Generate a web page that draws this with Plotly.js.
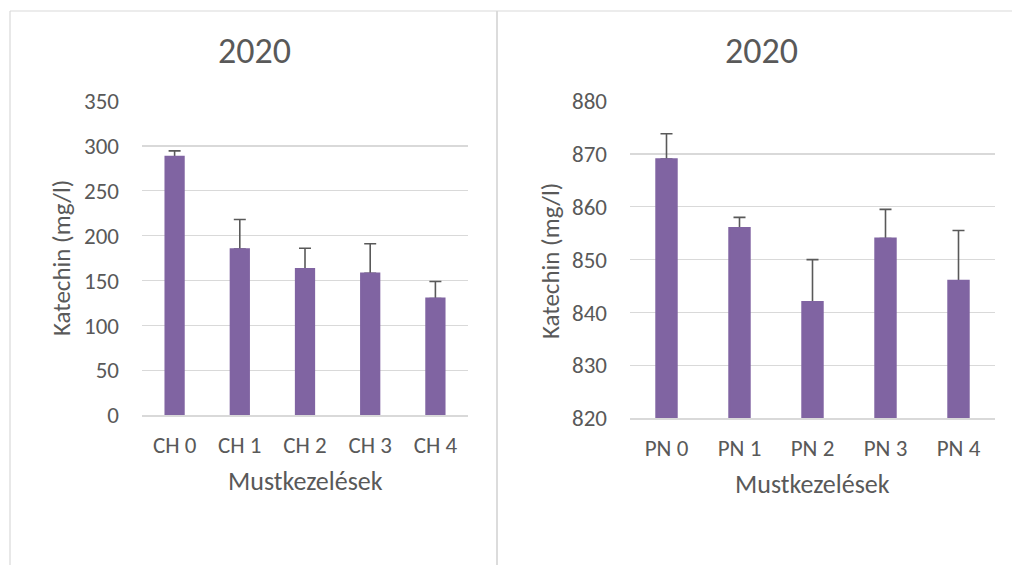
<!DOCTYPE html>
<html>
<head>
<meta charset="utf-8">
<script src="https://cdn.plot.ly/plotly-3.0.1.min.js"></script>
<style>
  html, body { margin: 0; padding: 0; background: #fff; }
  #chart { width: 1012px; height: 565px; }
</style>
</head>
<body>
<div id="chart"></div>
<script>
'use strict';

var chTreatments = ['CH 0', 'CH 1', 'CH 2', 'CH 3', 'CH 4'];
var chKatechin = [288, 185, 163, 158, 130];
var chError = [6.5, 33, 23, 33, 19];

var pnTreatments = ['PN 0', 'PN 1', 'PN 2', 'PN 3', 'PN 4'];
var pnKatechin = [869, 856, 842, 854, 846];
var pnError = [4.8, 2, 8, 5.5, 9.5];

var chartTitle = '2020';
var yTitle = 'Katechin (mg/l)';
var xTitle = 'Mustkezelések';

var barColor = '#8064A2'; //Excel purple
var textColor = '#595959';
var gridColor = '#d9d9d9';
var fontFamily = 'Carlito, Lato, sans-serif';

var W = 1012;
var H = 565;

function px(x) { return x / W; }
function py(y) { return 1 - y / H; }

// invisible bars that only carry the (upper) error bars, drawn under the real bars
function makeErrorBars(x, y, err, xaxis, yaxis) {
  return {
    type: 'bar',
    x: x,
    y: y,
    xaxis: xaxis,
    yaxis: yaxis,
    marker: { color: 'rgba(0,0,0,0)' },
    error_y: {
      type: 'data',
      symmetric: false,
      array: err,
      arrayminus: err.map(function () { return 0; }),
      color: textColor,
      thickness: 1.6,
      width: 6
    },
    hoverinfo: 'skip',
    showlegend: false
  };
}

function makeBars(x, y, xaxis, yaxis) {
  return {
    type: 'bar',
    x: x,
    y: y,
    xaxis: xaxis,
    yaxis: yaxis,
    // outline in the fill colour hides the empty lower cap of the error bar
    marker: { color: barColor, line: { color: barColor, width: 2 } },
    hoverinfo: 'x+y',
    showlegend: false
  };
}

function makeYAxis(domain, range, dtick, anchor) {
  return {
    domain: domain,
    range: range,
    dtick: dtick,
    anchor: anchor,
    showgrid: true,
    gridcolor: gridColor,
    gridwidth: 1.3,
    zeroline: false,
    showline: false,
    ticks: '',
    ticklabelstandoff: 22,
    tickfont: { family: fontFamily, size: 23, color: textColor },
    fixedrange: true
  };
}

function makeXAxis(domain, anchor) {
  return {
    domain: domain,
    anchor: anchor,
    type: 'category',
    showgrid: false,
    zeroline: false,
    showline: true,
    linecolor: gridColor,
    linewidth: 1.3,
    ticks: '',
    ticklabelstandoff: 9,
    tickfont: { family: fontFamily, size: 23, color: textColor },
    fixedrange: true
  };
}

function textNote(text, x, y, size, angle) {
  return {
    text: text,
    xref: 'paper',
    yref: 'paper',
    x: px(x),
    y: py(y),
    xanchor: 'center',
    yanchor: 'middle',
    showarrow: false,
    textangle: angle || 0,
    font: { family: fontFamily, size: size, color: textColor }
  };
}

function borderLine(x0, y0, x1, y1, width) {
  return {
    type: 'line',
    xref: 'paper',
    yref: 'paper',
    x0: px(x0), y0: py(y0),
    x1: px(x1), y1: py(y1),
    line: { color: gridColor, width: width }
  };
}

var data = [
  makeErrorBars(chTreatments, chKatechin, chError, 'x', 'y'),
  makeBars(chTreatments, chKatechin, 'x', 'y'),
  makeErrorBars(pnTreatments, pnKatechin, pnError, 'x2', 'y2'),
  makeBars(pnTreatments, pnKatechin, 'x2', 'y2')
];

var layout = {
  width: W,
  height: H,
  margin: { l: 0, r: 0, t: 0, b: 0 },
  paper_bgcolor: '#ffffff',
  plot_bgcolor: '#ffffff',
  barmode: 'overlay',
  bargap: 0.72,
  xaxis: makeXAxis([px(142), px(468)], 'y'),
  yaxis: makeYAxis([py(415.3), py(101)], [0, 350], 50, 'x'),
  xaxis2: makeXAxis([px(630), px(995)], 'y2'),
  yaxis2: makeYAxis([py(418.3), py(101)], [820, 880], 10, 'x2'),
  annotations: [
    textNote(chartTitle, 254, 51, 36),
    textNote(chartTitle, 761, 51, 36),
    textNote(yTitle, 61, 258, 25, -90),
    textNote(yTitle, 550, 261, 25, -90),
    textNote(xTitle, 305, 481, 26),
    textNote(xTitle, 812, 484, 26)
  ],
  shapes: [
    borderLine(10, 11, 1012, 11, 1.2),
    borderLine(10, 11, 10, 565, 1.2),
    borderLine(497, 11, 497, 565, 1.8)
  ]
};

Plotly.newPlot('chart', data, layout, { displayModeBar: false, staticPlot: true });
</script>
</body>
</html>
